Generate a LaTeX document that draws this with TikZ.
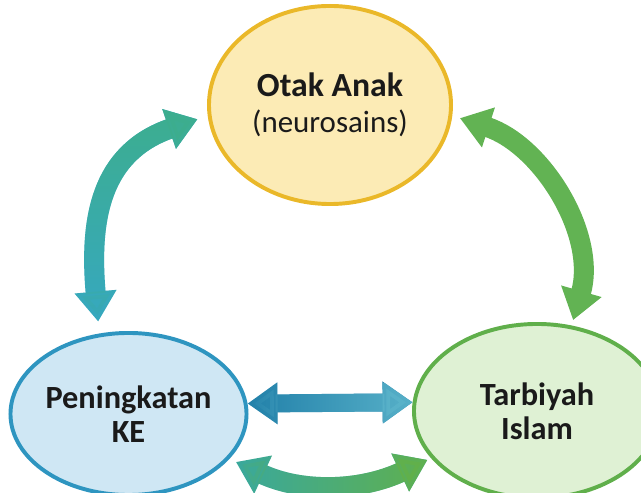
\documentclass[tikz,border=0pt]{standalone}
\usepackage{fontspec}
\setmainfont{Carlito}
\usetikzlibrary{shapes.geometric,arrows.meta,fadings}
\definecolor{otakfill}{HTML}{FCEBB5}
\definecolor{otakline}{HTML}{EAB829}
\definecolor{kefill}{HTML}{CFE7F4}
\definecolor{keline}{HTML}{2E95C0}
\definecolor{tarbfill}{HTML}{DFF1D4}
\definecolor{tarbline}{HTML}{60AF4B}
\definecolor{tealgreen}{HTML}{3DAE8E}
\definecolor{tealblue}{HTML}{36A8C5}
\definecolor{leafgreen}{HTML}{62B353}
\definecolor{deepblue}{HTML}{1F7EA8}
\definecolor{skyblue}{HTML}{5AB3CA}
\definecolor{seateal}{HTML}{37A8A3}
\definecolor{grassgreen}{HTML}{62B14A}
\definecolor{inktext}{HTML}{1A1A1A}
\tikzfading[name=fadeleft, left color=transparent!100, right color=transparent!0]
\tikzfading[name=fadedown, top color=transparent!0, bottom color=transparent!100]

\begin{document}
\begin{tikzpicture}[x=0.025cm, y=0.025cm,
    >={Triangle[length=0.75cm,width=1.0cm]},
    bubble/.style={ellipse, line width=2.8pt, inner sep=0pt, align=center,
        text=inktext, font=\fontsize{23}{24}\selectfont\bfseries},
    twoway/.style={<->, line width=0.5cm}]

    \useasboundingbox (0,0) rectangle (641,493);
    \clip (0,0) rectangle (641,493);

    % Three circles
    \node[bubble, draw=otakline, fill=otakfill, minimum width=6.05cm, minimum height=4.95cm,
        font=\fontsize{22}{26}\selectfont] (otak) at (330,388)
        {{\fontsize{24}{26}\selectfont\bfseries Otak Anak}\\(neurosains)};
    \node[bubble, draw=keline, fill=kefill, minimum width=5.9cm, minimum height=4.05cm]
        (ke) at (128.5,79) {Peningkatan\\KE};
    \node[bubble, draw=tarbline, fill=tarbfill, minimum width=6.15cm, minimum height=4.35cm]
        (tarb) at (537,82) {Tarbiyah\\Islam};

    % Left arc (blue below, green-teal above)
    \draw[twoway, tealblue, shorten <=0.3cm, shorten >=0.27cm]
        (ke.110) to[out=95, in=199, looseness=1.2] (otak.185);
    \draw[twoway, tealgreen, path fading=fadedown, shorten <=0.3cm, shorten >=0.27cm]
        (ke.110) to[out=95, in=199, looseness=1.2] (otak.185);

    % Right arc
    \draw[twoway, leafgreen, shorten <=0.2cm, shorten >=0.14cm]
        (otak.-5) to[out=-18, in=74] (tarb.68);

    % Straight arrow between the lower two
    \draw[twoway, line width=0.45cm, deepblue] (ke.5) -- (tarb.176);
    \draw[twoway, line width=0.45cm, skyblue, path fading=fadeleft] (ke.5) -- (tarb.176);

    % Bottom arc
    \draw[twoway, seateal, shorten <=0.18cm, shorten >=0.1cm]
        (ke.-24) to[out=-25, in=205] (tarb.204);
    \draw[twoway, grassgreen, path fading=fadeleft, shorten <=0.18cm, shorten >=0.1cm]
        (ke.-24) to[out=-25, in=205] (tarb.204);
\end{tikzpicture}
\end{document}
